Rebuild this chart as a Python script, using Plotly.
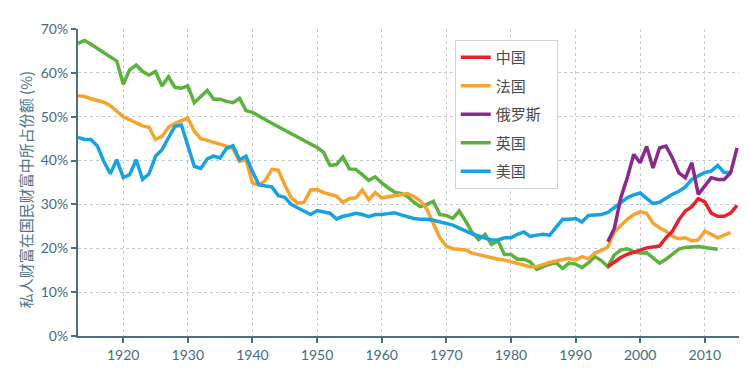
import plotly.graph_objects as go

# ---------------- data ----------------
uk_years = list(range(1913, 2013))
uk_vals = [66.7, 67.4, 66.5, 65.6, 64.7, 63.7, 62.7, 57.4, 60.7, 61.8,
           60.3, 59.5, 60.3, 57.0, 59.1, 56.7, 56.5, 57.0, 53.2, 54.6,
           56.0, 54.0, 54.0, 53.5, 53.2, 54.2, 51.4, 51.0, 50.1, 49.3,
           48.5, 47.7, 46.9, 46.1, 45.3, 44.6, 43.7, 43.0, 41.9, 38.9,
           39.1, 40.8, 38.1, 38.0, 36.8, 35.5, 36.3, 34.9, 33.8, 32.8,
           32.5, 31.8, 30.5, 29.5, 30.0, 30.7, 27.7, 27.5, 26.8, 28.5,
           26.2, 23.6, 22.0, 23.2, 20.9, 21.7, 18.6, 18.6, 17.5, 17.5,
           16.9, 15.2, 15.8, 16.4, 16.7, 15.4, 16.6, 16.4, 15.6, 16.7,
           18.1, 17.2, 15.8, 18.5, 19.6, 19.9, 19.2, 18.9, 19.0, 17.9,
           16.6, 17.5, 18.6, 19.8, 20.2, 20.3, 20.4, 20.2, 20.0, 19.8]

fr_years = list(range(1913, 2015))
fr_vals = [54.8, 54.6, 54.1, 53.8, 53.3, 52.5, 51.2, 50.0, 49.3, 48.5,
           47.9, 47.6, 44.8, 45.5, 47.6, 48.5, 49.1, 49.7, 46.7, 45.0,
           44.6, 44.2, 43.7, 43.3, 42.7, 39.8, 40.2, 34.9, 34.4, 35.5,
           38.0, 37.8, 34.5, 31.5, 30.3, 30.5, 33.3, 33.4, 32.7, 32.2,
           31.9, 30.5, 31.3, 31.5, 33.3, 31.1, 32.7, 31.5, 31.8, 32.1,
           32.3, 32.5, 31.8, 30.8, 28.9, 25.5, 22.4, 20.5, 19.9, 19.8,
           19.6, 18.9, 18.5, 18.1, 17.7, 17.5, 17.3, 16.9, 16.6, 16.2,
           15.8, 15.8, 16.4, 16.8, 17.1, 17.5, 17.7, 17.3, 18.1, 17.6,
           18.9, 19.5, 20.3, 23.7, 25.2, 26.6, 27.7, 28.3, 28.0, 25.7,
           24.7, 23.9, 22.7, 22.2, 22.4, 21.7, 21.9, 23.9, 23.2, 22.4,
           23.0, 23.6]

us_years = list(range(1913, 2015))
us_vals = [45.3, 44.8, 44.8, 43.3, 39.8, 37.0, 40.2, 36.1, 36.8, 40.2,
           35.7, 37.0, 41.0, 42.5, 45.2, 47.8, 48.1, 43.5, 38.7, 38.2,
           40.4, 41.0, 40.6, 42.8, 43.4, 40.2, 41.0, 37.5, 34.5, 34.2,
           34.0, 32.0, 31.6, 30.0, 29.2, 28.4, 27.7, 28.6, 28.4, 28.0,
           26.7, 27.3, 27.6, 28.0, 27.7, 27.2, 27.7, 27.7, 27.9, 28.1,
           27.6, 27.1, 26.8, 26.6, 26.6, 26.4, 26.1, 25.8, 25.3, 24.6,
           23.9, 23.3, 22.8, 22.3, 21.9, 21.9, 22.4, 22.4, 23.2, 23.7,
           22.7, 23.0, 23.2, 23.0, 24.7, 26.6, 26.6, 26.8, 26.0, 27.5,
           27.6, 27.7, 28.2, 29.2, 30.4, 31.5, 32.2, 32.6, 31.3, 30.2,
           30.5, 31.5, 32.3, 33.0, 34.0, 35.7, 36.6, 37.3, 37.6, 38.9,
           37.3, 37.3]

ru_years = list(range(1995, 2016))
ru_vals = [21.5, 24.5, 31.5, 36.0, 41.4, 39.5, 43.2, 38.3, 42.9, 43.3,
           40.6, 37.2, 36.1, 39.5, 32.3, 34.3, 36.1, 35.7, 35.7, 37.2,
           42.9]

cn_years = list(range(1995, 2016))
cn_vals = [15.8, 16.9, 17.9, 18.6, 19.2, 19.6, 20.1, 20.4, 20.5, 22.4,
           23.9, 26.5, 28.5, 29.5, 31.3, 30.6, 28.0, 27.3, 27.3, 28.0,
           29.8]

series_names = ["中国", "法国", "俄罗斯", "英国", "美国"]
series_colors = ["#e3252b", "#f6a330", "#8b2a8c", "#5cb23c", "#17a3df"]

x_ticks = [1920, 1930, 1940, 1950, 1960, 1970, 1980, 1990, 2000, 2010]
y_ticks = [0, 10, 20, 30, 40, 50, 60, 70]
y_labels = [f"{v}%" for v in y_ticks]
y_title = "私人财富在国民财富中所占份额 (%)"

# ---------------- figure ----------------
data = [(cn_years, cn_vals), (fr_years, fr_vals), (ru_years, ru_vals),
        (uk_years, uk_vals), (us_years, us_vals)]
draw_order = [3, 1, 4, 2, 0]

fig = go.Figure()
for i in draw_order:
    xs, ys = data[i]
    label = series_names[i] + ("\u00a0\u00a0\u00a0" if i == 2 else "")
    fig.add_trace(go.Scatter(
        x=xs, y=ys, mode="lines", name=label,
        line=dict(color=series_colors[i], width=3.5),
        legendgroup=series_names[i], legendrank=i + 1,
    ))

axis_col = "#4b7084"
tick_col = "#466b80"
grid_col = "#c3ccd2"

fig.update_layout(
    width=742, height=366,
    margin=dict(l=70, r=11, t=21, b=29),
    paper_bgcolor="white", plot_bgcolor="white",
    font=dict(family="Lato, 'Noto Sans CJK SC', sans-serif", size=14, color=tick_col),
    showlegend=True,
    legend=dict(
        x=0.570, y=0.964, xanchor="left", yanchor="top",
        bgcolor="white", bordercolor="#c9d4db", borderwidth=1,
        font=dict(family="'Noto Sans CJK SC', sans-serif", size=15, color="#4a4a4a"),
        tracegroupgap=6, traceorder="grouped",
        itemwidth=30,
    ),
    annotations=[dict(
        text=y_title, textangle=-90, xref="paper", yref="paper",
        x=-0.080, y=0.475, xanchor="center", yanchor="middle", showarrow=False,
        font=dict(family="'Noto Sans CJK SC', sans-serif", size=15, color="#4f7589"),
    )],
)

fig.update_xaxes(
    range=[1913, 2015.3], tickvals=x_ticks, ticktext=[str(v) for v in x_ticks],
    showline=True, linecolor=axis_col, linewidth=2,
    ticks="outside", ticklen=5, tickcolor=axis_col, tickwidth=2,
    showgrid=True, gridcolor=grid_col, griddash="dot", gridwidth=1,
    zeroline=False, tickfont=dict(size=14, color=tick_col),
)
fig.update_yaxes(
    range=[0, 70], tickvals=y_ticks, ticktext=y_labels,
    showline=True, linecolor=axis_col, linewidth=2,
    ticks="outside", ticklen=5, tickcolor=axis_col, tickwidth=2,
    showgrid=True, gridcolor=grid_col, griddash="dot", gridwidth=1,
    zeroline=False, tickfont=dict(size=14, color=tick_col),
)

fig.write_html("out.html")
